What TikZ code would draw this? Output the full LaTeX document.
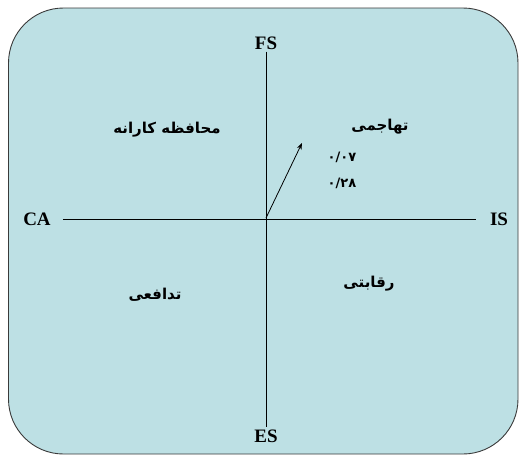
\documentclass[tikz,border=0pt]{standalone}
\usepackage{fontspec}
\setmainfont{Liberation Serif}
\newfontfamily\arabicfont[Script=Arabic]{DejaVu Sans}
\TeXXeTstate=1
\usetikzlibrary{arrows.meta,positioning}
\definecolor{PanelBlue}{HTML}{BDE0E4}
\definecolor{PanelEdge}{HTML}{3A3A3A}
\begin{document}
\begin{tikzpicture}[x=1pt,y=-1pt,>=Stealth,
  axislabel/.style={font=\fontsize{19}{22}\selectfont\bfseries,inner sep=2pt},
  zonelabel/.style={font=\arabicfont\fontsize{15}{18}\selectfont\bfseries,inner sep=1pt},
  value/.style={font=\arabicfont\fontsize{13}{16}\selectfont\bfseries,inner sep=1pt}]
  \useasboundingbox (0,0) rectangle (519,455);
  \draw[PanelEdge,fill=PanelBlue,line width=0.9pt,rounded corners=55pt]
    (8.5,8) rectangle (518,454);
  % axes
  \node[axislabel] (fs) at (266,43) {FS};
  \node[axislabel] (es) at (266,436) {ES};
  \node[axislabel,inner xsep=12pt] (ca) at (37,219) {CA};
  \node[axislabel,inner xsep=14pt] (is) at (499,219) {IS};
  \draw[line width=0.8pt] (fs) -- (es);
  \draw[line width=0.8pt] (ca) -- (is);
  % strategic vector
  \coordinate (origin) at (266,218);
  \coordinate (tip) at (302,143);
  \draw[->,line width=0.8pt] (origin) -- (tip);
  % zones
  \node[zonelabel] (aggressive) at (380,127) {\beginR تهاجمی\endR};
  \node[zonelabel] (conservative) at (167,130) {\beginR محافظه کارانه\endR};
  \node[zonelabel] (defensive) at (155,295) {\beginR تدافعی\endR};
  \node[zonelabel] (competitive) at (369,284) {\beginR رقابتی\endR};
  \node[value] (xval) at (342,157) {۰/۰۷};
  \node[value] (yval) at (342,183) {۰/۲۸};
\end{tikzpicture}
\end{document}
